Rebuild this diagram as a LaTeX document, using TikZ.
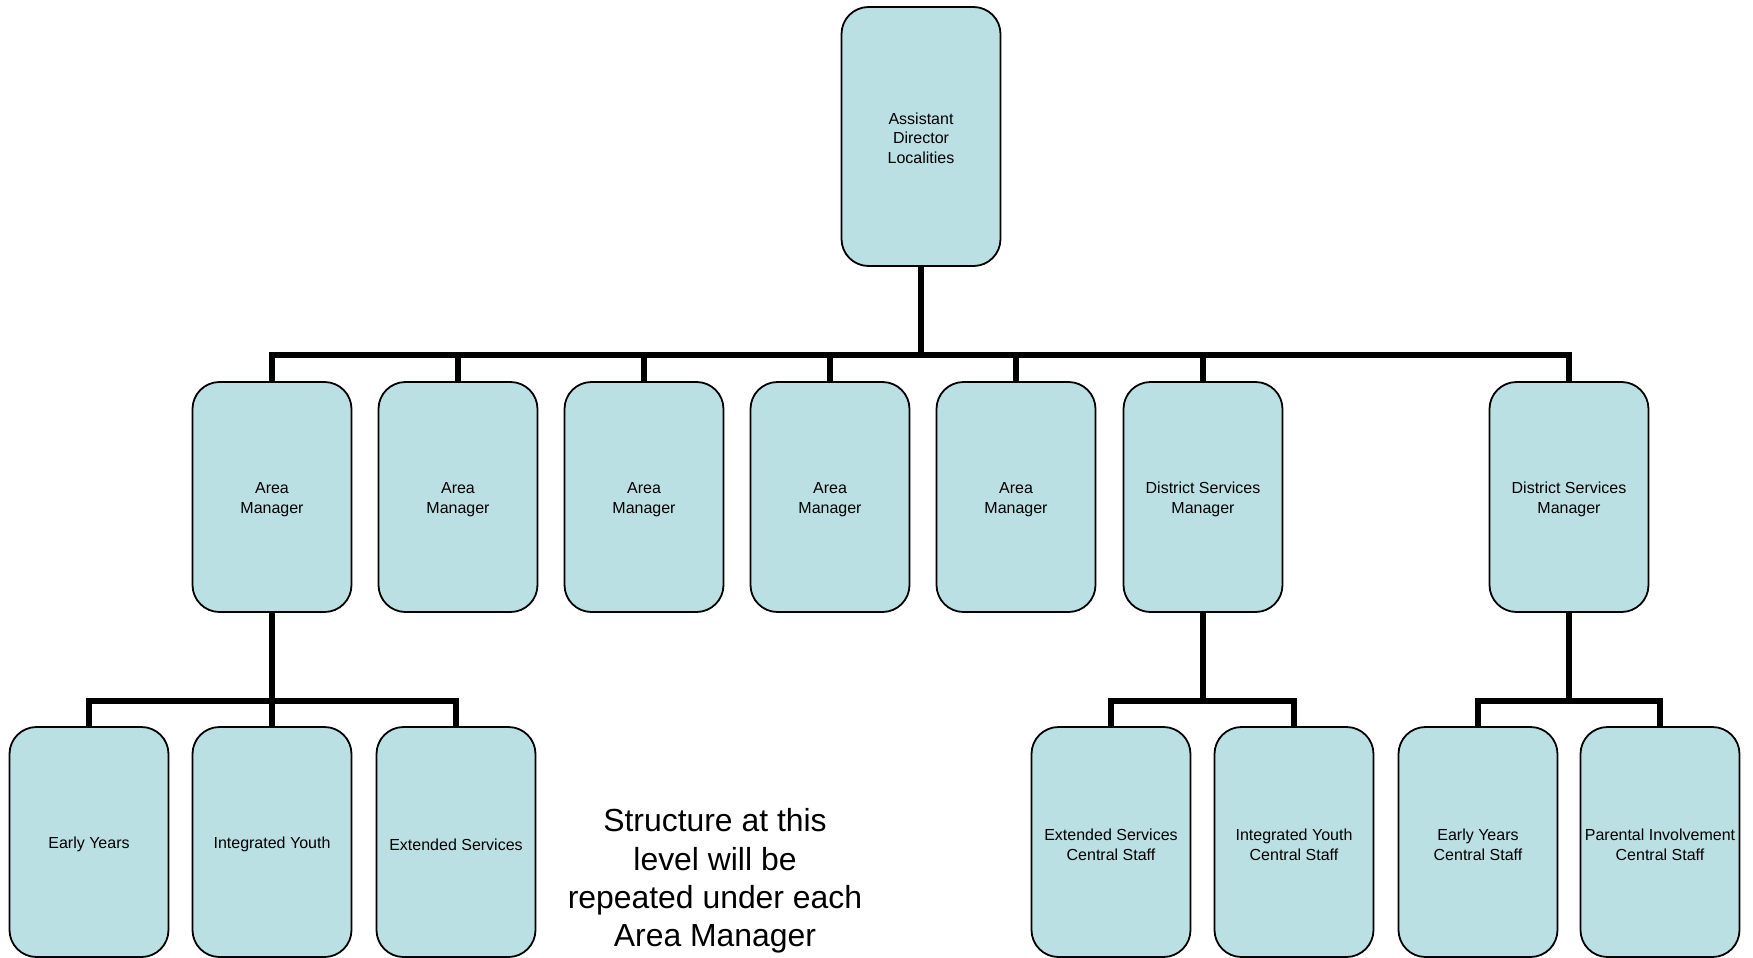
\documentclass[tikz,border=0pt]{standalone}
\usepackage{fontspec}
\setmainfont{Liberation Sans}
\definecolor{boxfill}{HTML}{BBE0E3}
\newcommand\tstrut{\rule{0pt}{8.6pt}}
\newcommand\ttstrut{\rule{0pt}{7.5pt}}
\begin{document}
\begin{tikzpicture}[x=0.5pt,y=-0.5pt,
  orgbox/.style={draw=black, line width=0.9pt, fill=boxfill, rounded corners=13.5pt,
    minimum width=79.5pt, minimum height=115pt, inner sep=0pt, align=center,
    font=\fontsize{8pt}{10pt}\selectfont},
  topbox/.style={orgbox, minimum height=129.5pt, font=\fontsize{8pt}{9.8pt}\selectfont},
  conn/.style={draw=black, line width=3pt}]
\useasboundingbox (0,0) rectangle (1753,958);
% top
\node[topbox] (top) at (921,136.5) {\ttstrut Assistant\\Director\\Localities};
% middle row
\node[orgbox] (m1) at (272,497) {\tstrut Area\\Manager};
\node[orgbox] (m2) at (458,497) {\tstrut Area\\Manager};
\node[orgbox] (m3) at (644,497) {\tstrut Area\\Manager};
\node[orgbox] (m4) at (830,497) {\tstrut Area\\Manager};
\node[orgbox] (m5) at (1016,497) {\tstrut Area\\Manager};
\node[orgbox] (d1) at (1203,497) {\tstrut District Services\\Manager};
\node[orgbox] (d2) at (1569,497) {\tstrut District Services\\Manager};
% bottom row
\node[orgbox] (c1) at (89,842) {\tstrut Early Years};
\node[orgbox] (c2) at (272,842) {\tstrut Integrated Youth};
\node[orgbox] (c3) at (456,842) {\tstrut Extended Services};
\node[orgbox] (e1) at (1111,842) {\tstrut Extended Services\\Central Staff};
\node[orgbox] (e2) at (1294,842) {\tstrut Integrated Youth\\Central Staff};
\node[orgbox] (f1) at (1478,842) {\tstrut Early Years\\Central Staff};
\node[orgbox] (f2) at (1660,842) {\tstrut Parental Involvement\\Central Staff};
% note
\node[align=center, inner sep=0pt, font=\fontsize{15.95pt}{19.2pt}\selectfont] (note) at (715,881)
  {Structure at this\\level will be\\repeated under each\\Area Manager};
% connectors
\coordinate (bt) at (921,355);
\coordinate (ba) at (272,701);
\coordinate (bd1) at (1203,701);
\coordinate (bd2) at (1569,701);
\draw[conn] (top.south) -- (bt);
\foreach \n in {m1,m2,m3,m4,m5,d1,d2} \draw[conn] (bt) -| (\n.north);
\draw[conn] (m1.south) -- (ba);
\foreach \n in {c1,c2,c3} \draw[conn] (ba) -| (\n.north);
\draw[conn] (d1.south) -- (bd1);
\foreach \n in {e1,e2} \draw[conn] (bd1) -| (\n.north);
\draw[conn] (d2.south) -- (bd2);
\foreach \n in {f1,f2} \draw[conn] (bd2) -| (\n.north);
\end{tikzpicture}
\end{document}
